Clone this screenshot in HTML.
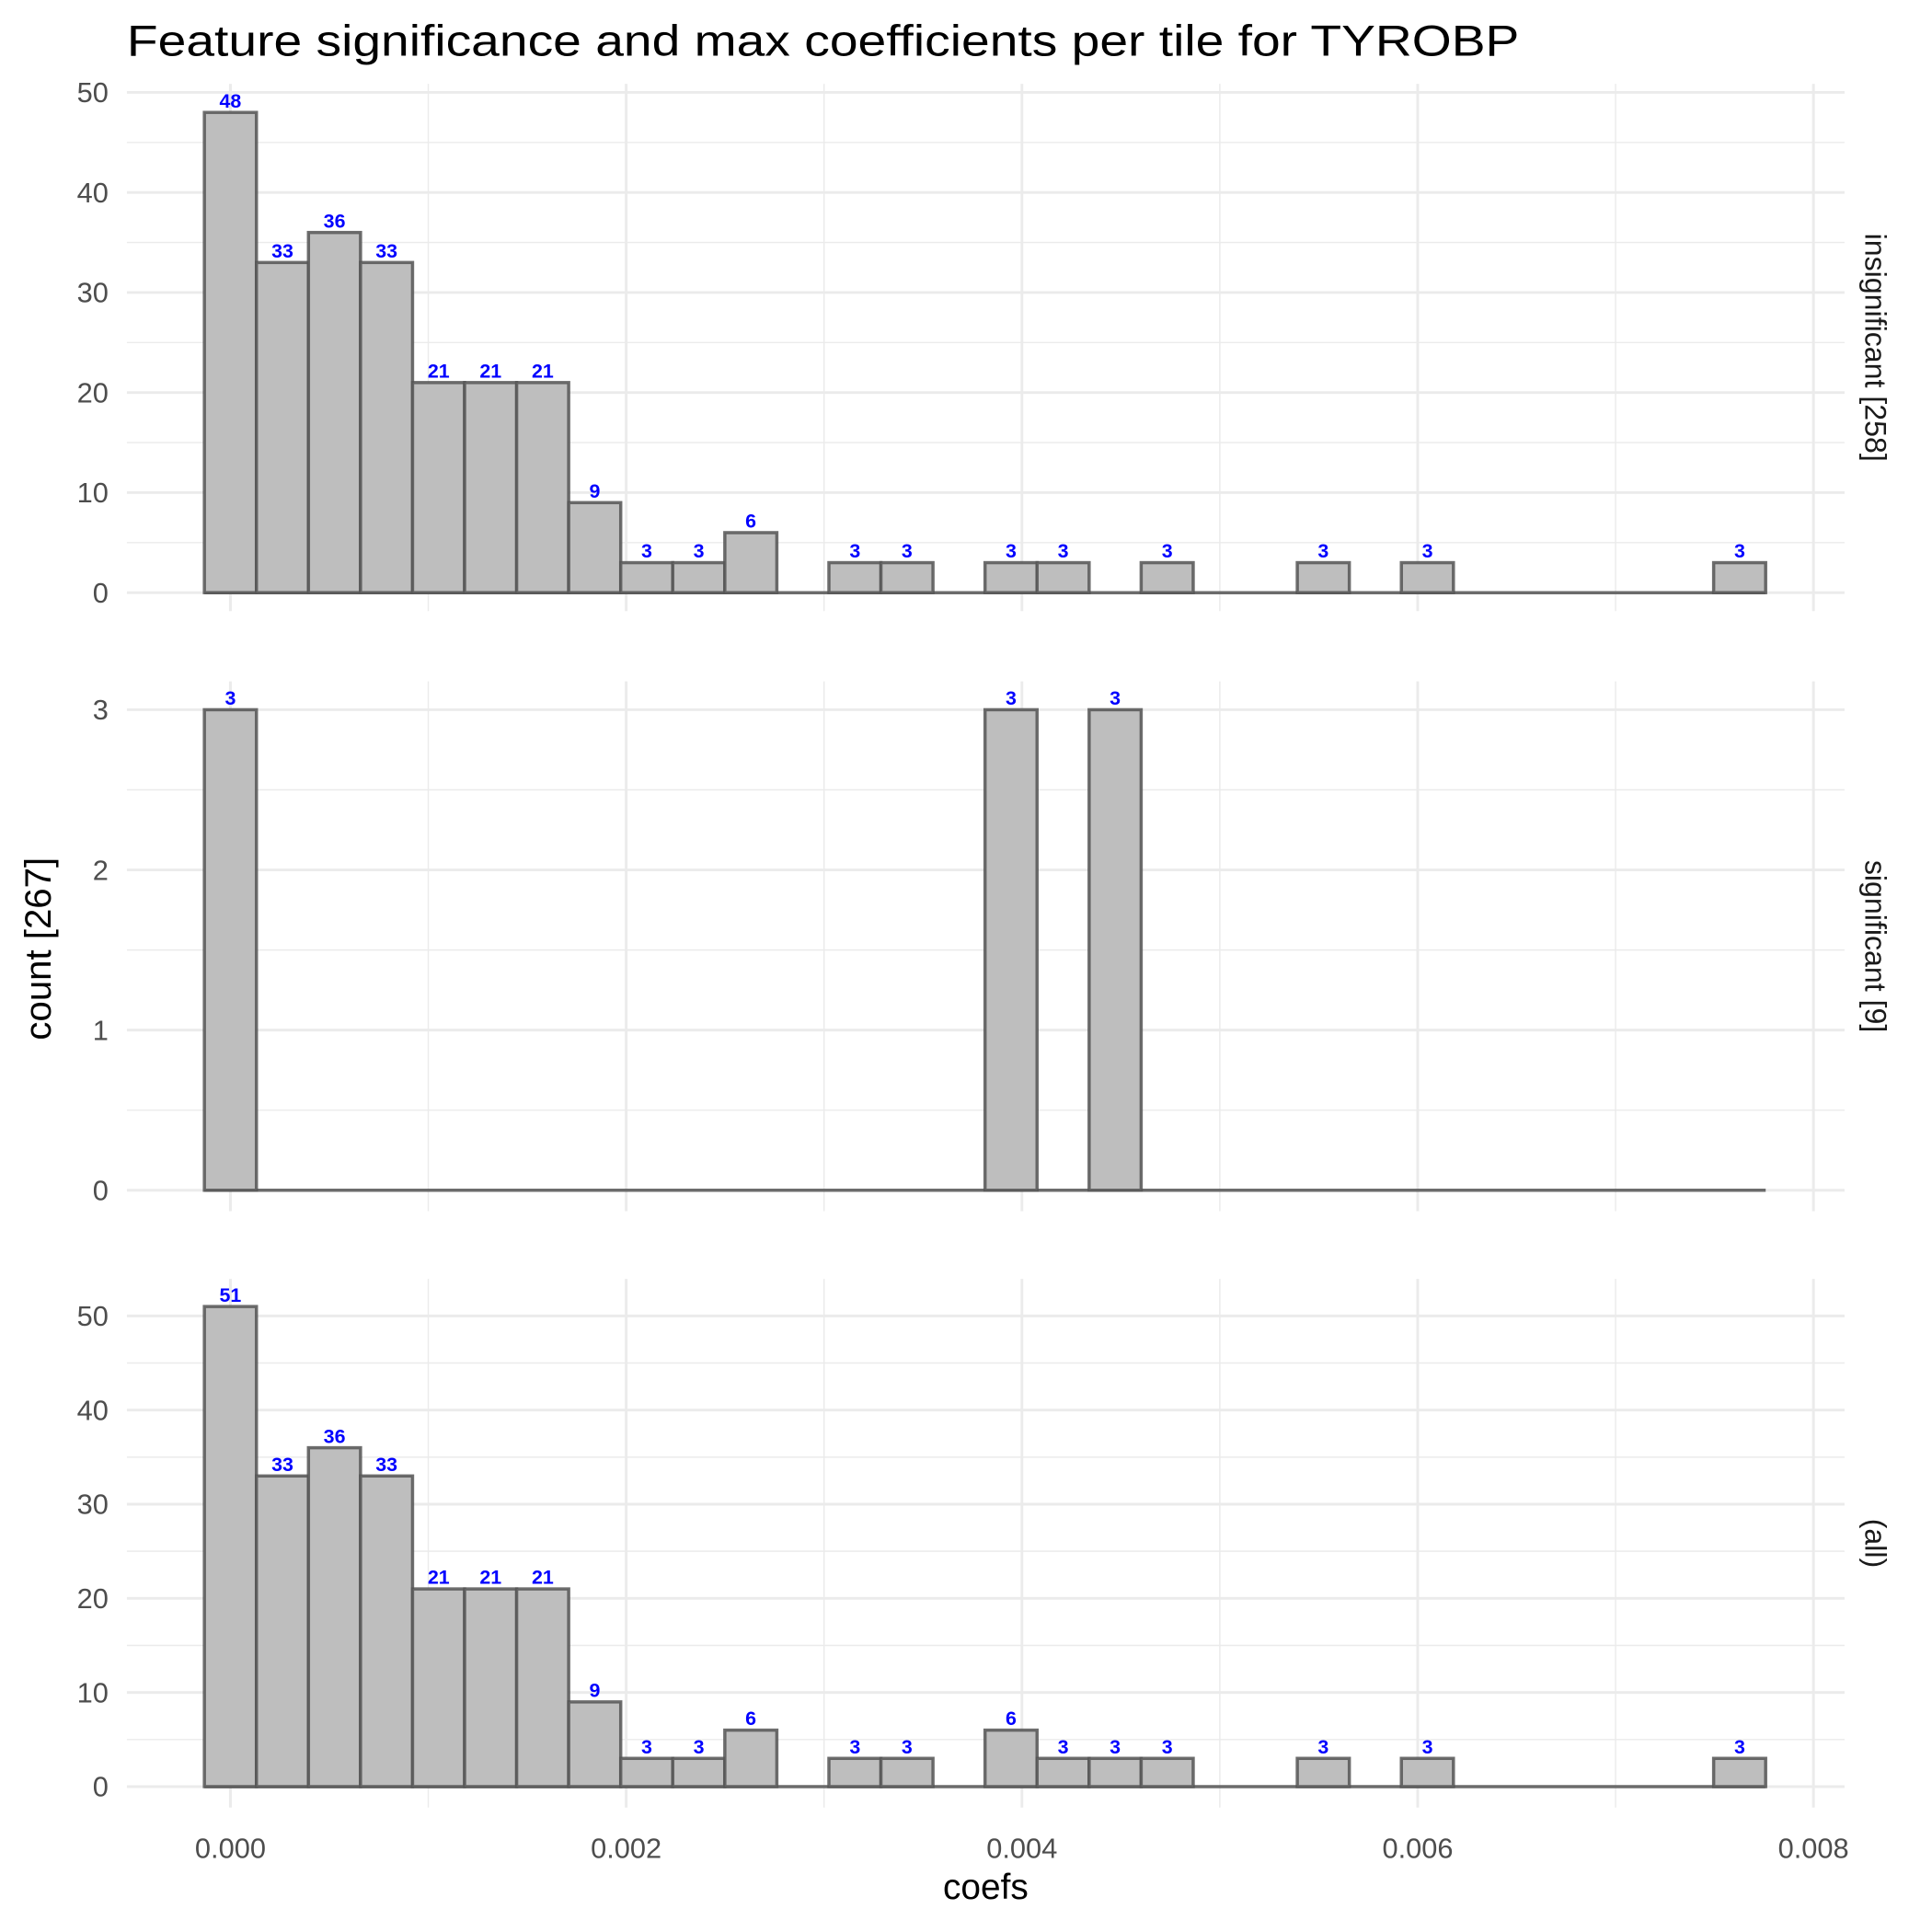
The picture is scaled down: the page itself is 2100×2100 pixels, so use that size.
<!DOCTYPE html>
<html><head><meta charset="utf-8"><style>
html,body{margin:0;padding:0;background:#fff}
svg{display:block}
text{font-family:"Liberation Sans",Arial,sans-serif}
</style></head><body>
<svg id="chart" width="2100" height="2100" viewBox="0 0 1568 1568" xmlns="http://www.w3.org/2000/svg">
<text x="103" y="45" font-size="35" fill="#000" textLength="1130" lengthAdjust="spacingAndGlyphs">Feature significance and max coefficients per tile for TYROBP</text>
<text x="800" y="1541" font-size="29" text-anchor="middle" fill="#000">coefs</text>
<text transform="translate(41,770) rotate(-90)" font-size="30" text-anchor="middle" fill="#000">count [267]</text>
<g id="layers"></g>
</svg>
<script>
const panelNames = ["insignificant [258]", "significant [9]", "(all)"];
const countsInsig = [48,33,36,33,21,21,21,9,3,3,6,0,3,3,0,3,3,0,3,0,0,3,0,3,0,0,0,0,0,3];
const countsSig   = [3,0,0,0,0,0,0,0,0,0,0,0,0,0,0,3,0,3,0,0,0,0,0,0,0,0,0,0,0,0];
const countsAll   = [51,33,36,33,21,21,21,9,3,3,6,0,3,3,0,6,3,3,3,0,0,3,0,3,0,0,0,0,0,3];
const binWidth = 0.000263;
const xTicks = [0, 0.002, 0.004, 0.006, 0.008];
const xTickLabels = ["0.000","0.002","0.004","0.006","0.008"];
const yTicks1 = [0,10,20,30,40,50];
const yTicks2 = [0,1,2,3];
const yTicks3 = [0,10,20,30,40,50];

const NS = "http://www.w3.org/2000/svg";
const root = document.getElementById("layers");
const PX0 = 103, PX1 = 1497;
const xs = v => 187 + v * 160600;
function mk(tag, attrs, parent) {
  const e = document.createElementNS(NS, tag);
  for (const k in attrs) e.setAttribute(k, attrs[k]);
  (parent || root).appendChild(e);
  return e;
}
const panels = [
  {counts: countsInsig, ticks: yTicks1, top: 68, bot: 496, y0: 481, ymax: 50, ymaxPx: 75, minorStep: 5},
  {counts: countsSig, ticks: yTicks2, top: 553, bot: 983, y0: 966, ymax: 3, ymaxPx: 576, minorStep: 0.5},
  {counts: countsAll, ticks: yTicks3, top: 1038, bot: 1467, y0: 1450, ymax: 50, ymaxPx: 1068, minorStep: 5}
];
panels.forEach((p, pi) => {
  const ys = v => p.y0 - v * (p.y0 - p.ymaxPx) / p.ymax;
  const g = mk("g", {});
  
  
  const tmax = p.ticks[p.ticks.length - 1];
  for (let v = p.minorStep; v <= tmax + p.minorStep; v += p.minorStep * 2) {
    const y = ys(v);
    if (y < p.top) continue;
    const l = mk("line", {x1: PX0, x2: PX1, y1: y, y2: y, stroke: "#ebebeb", "stroke-width": 1.1}, g);
    
    
  }
  [0.001, 0.003, 0.005, 0.007].forEach(v => {
    const l = mk("line", {x1: xs(v), x2: xs(v), y1: p.top, y2: p.bot, stroke: "#ebebeb", "stroke-width": 1.1}, g);
    
    
  });
  p.ticks.forEach(v => {
    const y = ys(v);
    const l = mk("line", {x1: PX0, x2: PX1, y1: y, y2: y, stroke: "#ebebeb", "stroke-width": 2.2}, g);
    
    
    const t = mk("text", {x: 88, y: y + 8, "font-size": 23, fill: "#4d4d4d", "text-anchor": "end"}, g);
    t.textContent = v;
    
    
  });
  xTicks.forEach(v => {
    const l = mk("line", {x1: xs(v), x2: xs(v), y1: p.top, y2: p.bot, stroke: "#ebebeb", "stroke-width": 2.2}, g);
    
    
  });
  // baseline for zero-count bins
  const n = p.counts.length;
  const bl = mk("line", {x1: xs(-0.5 * binWidth), x2: xs((n - 0.5) * binWidth), y1: ys(0), y2: ys(0), stroke: "#555", "stroke-opacity": 0.85, "stroke-width": 2.6}, g);
  
  
  p.counts.forEach((c, i) => {
    const xl = xs((i - 0.5) * binWidth), xr = xs((i + 0.5) * binWidth);
    if (c <= 0) return;
    const r = mk("rect", {x: xl, y: ys(c), width: xr - xl, height: ys(0) - ys(c),
      fill: "#bebebe", stroke: "#555", "stroke-opacity": 0.85, "stroke-width": 2.6}, g);
    
    
    const t = mk("text", {x: (xl + xr) / 2, y: ys(c) - 4, "font-size": 16, "font-weight": "bold", fill: "#0000ff", "text-anchor": "middle"}, g);
    t.textContent = c;
    
    
  });
  const cy = (p.top + p.bot) / 2;
  const s = mk("text", {transform: "translate(1514," + cy + ") rotate(90)", "font-size": 24, fill: "#1a1a1a", "text-anchor": "middle"}, g);
  s.textContent = panelNames[pi];
  
  
});
xTicks.forEach((v, i) => {
  const t = mk("text", {x: xs(v), y: 1508, "font-size": 23, fill: "#4d4d4d", "text-anchor": "middle"});
  t.textContent = xTickLabels[i];
  
  
});
</script>
</body></html>
